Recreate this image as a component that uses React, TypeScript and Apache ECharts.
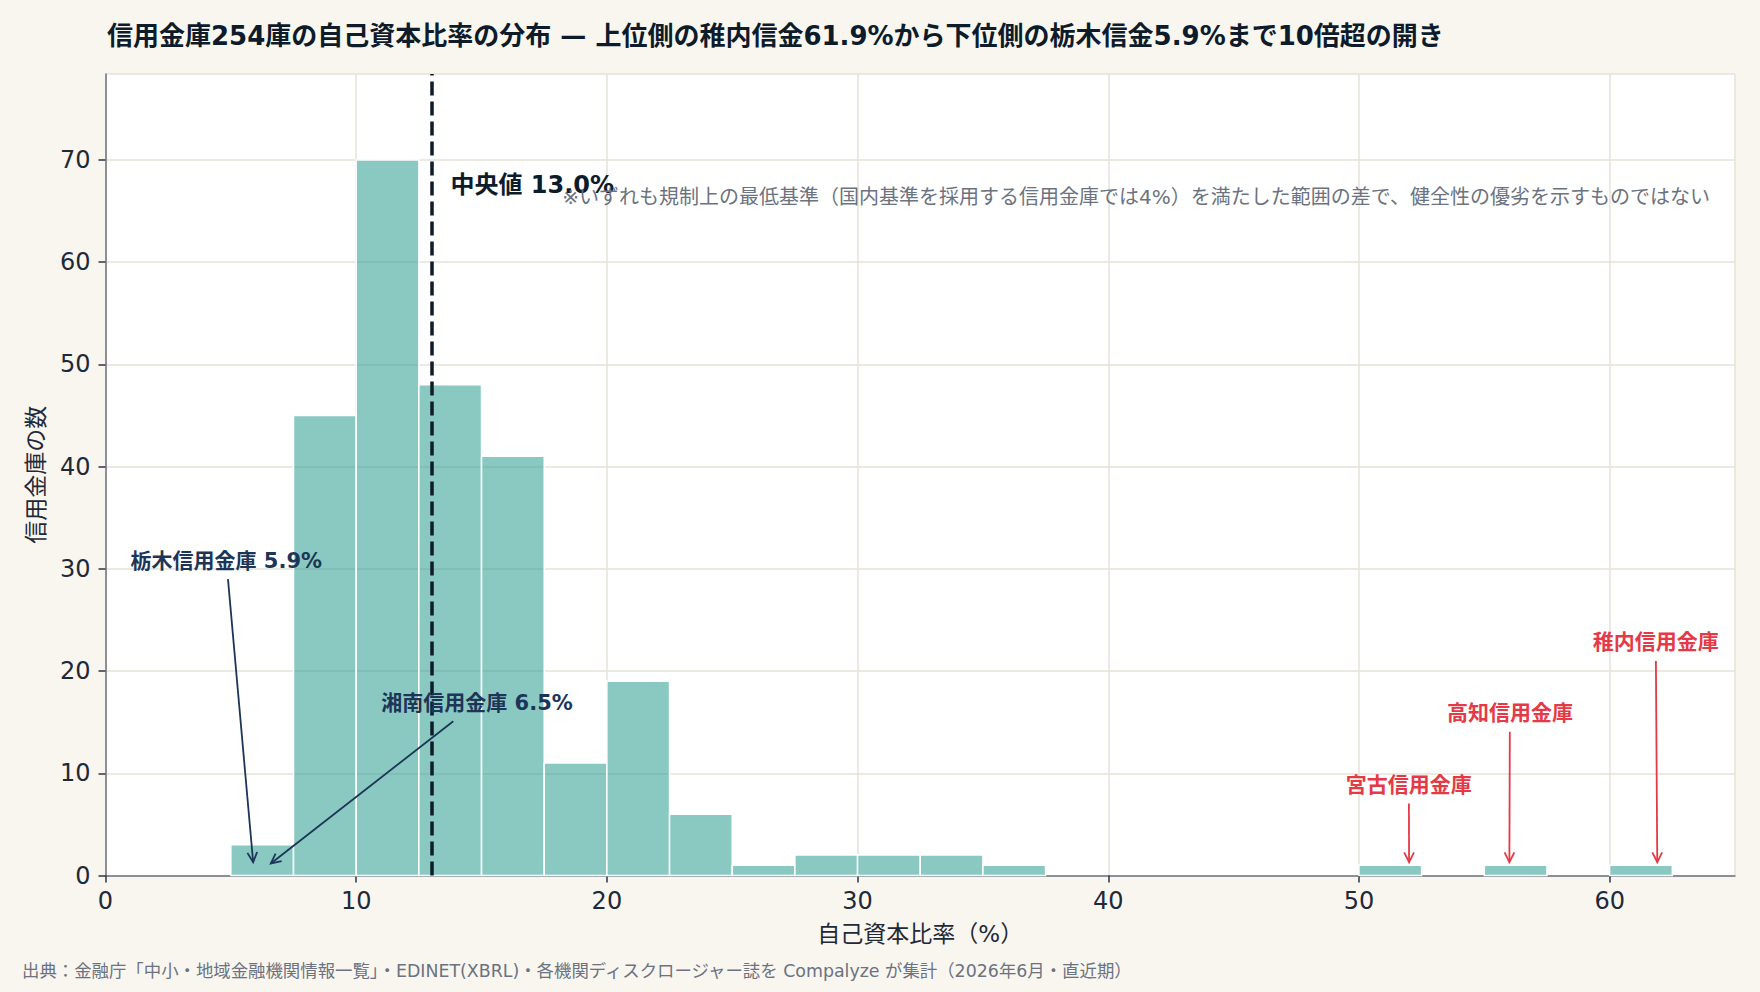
import React, { useEffect, useRef } from 'react';
import * as echarts from 'echarts';

// ---- data ----
const binLows = [5, 7.5, 10, 12.5, 15, 17.5, 20, 22.5, 25, 27.5, 30, 32.5, 35, 50, 55, 60];
const binWidth = 2.5;
const binCounts = [3, 45, 70, 48, 41, 11, 19, 6, 1, 2, 2, 2, 1, 1, 1, 1];
const medianRatio = 13.0;
const medianLabel = '中央値 13.0%';

const annoLabels = ['栃木信用金庫 5.9%', '湘南信用金庫 6.5%', '宮古信用金庫', '高知信用金庫', '稚内信用金庫'];
const annoTargetX = [5.9, 6.5, 52.0, 56.0, 61.9];
const annoTargetY = [1, 1, 1, 1, 1];
const annoTextX = [4.82, 14.82, 51.99, 56.02, 61.84];
const annoTextY = [30.8, 16.9, 8.85, 15.86, 22.8];
const annoKinds = ['low', 'low', 'high', 'high', 'high'];

const titleText = '信用金庫254庫の自己資本比率の分布 — 上位側の稚内信金61.9%から下位側の栃木信金5.9%まで10倍超の開き';
const noteText = '※いずれも規制上の最低基準（国内基準を採用する信用金庫では4%）を満たした範囲の差で、健全性の優劣を示すものではない';
const sourceText = '出典：金融庁「中小・地域金融機関情報一覧」・EDINET(XBRL)・各機関ディスクロージャー誌を Compalyze が集計（2026年6月・直近期）';
const xName = '自己資本比率（%）';
const yName = '信用金庫の数';

const FONT = '"Noto Sans CJK JP", "Noto Sans", sans-serif';
const MIXED = '"DejaVu Sans", "Noto Sans CJK JP", sans-serif';
const BG = '#f9f6f0';
const NAVY = '#1d3557';
const RED = '#e63946';
const DARK = '#0d1b2a';

export default function App() {
  const ref = useRef<HTMLDivElement>(null);
  useEffect(() => {
    if (!ref.current) return;
    const chart = echarts.init(ref.current, null, { renderer: 'svg' });

    const histData = binLows.map((lo, i) => [lo, lo + binWidth, binCounts[i]]);
    const annoData = annoLabels.map((_, i) => [annoTextX[i], annoTextY[i], annoTargetX[i], annoTargetY[i]]);

    const option: any = {
      animation: false,
      backgroundColor: BG,
      textStyle: { fontFamily: FONT },
      title: {
        text: titleText,
        left: 102,
        top: 18,
        textStyle: { fontSize: 26, fontWeight: 'bold', color: DARK, fontFamily: MIXED },
      },
      grid: {
        left: 105.5,
        right: 25,
        top: 74,
        bottom: 116.5,
        show: true,
        backgroundColor: '#ffffff',
        borderWidth: 0,
      },
      xAxis: {
        type: 'value',
        min: 0,
        max: 65,
        interval: 10,
        name: xName,
        nameLocation: 'middle',
        nameGap: 47,
        nameTextStyle: { fontSize: 23, color: '#1f2937', fontFamily: MIXED },
        axisLine: { show: true, onZero: true, lineStyle: { color: '#6b7280', width: 1.5 } },
        axisTick: { show: true, length: 7, lineStyle: { color: '#2b3440', width: 1.5 } },
        axisLabel: { fontSize: 24, color: '#1f2937', margin: 13, showMaxLabel: false, fontFamily: MIXED },
        splitLine: { show: true, lineStyle: { color: '#e6e2da', width: 1.5 } },
      },
      yAxis: {
        type: 'value',
        min: 0,
        max: 78.4,
        interval: 10,
        name: yName,
        nameLocation: 'middle',
        nameGap: 60,
        nameRotate: 90,
        nameTextStyle: { fontSize: 23, color: '#1f2937', fontFamily: FONT },
        axisLine: { show: true, lineStyle: { color: '#6b7280', width: 1.5 } },
        axisTick: { show: true, length: 7, lineStyle: { color: '#2b3440', width: 1.5 } },
        axisLabel: { fontSize: 24, color: '#1f2937', margin: 15, showMaxLabel: false, fontFamily: MIXED },
        splitLine: { show: true, lineStyle: { color: '#e6e2da', width: 1.5 } },
      },
      series: [
        {
          type: 'custom',
          name: 'hist',
          data: histData,
          encode: { x: [0, 1], y: 2 },
          silent: true,
          z: 2,
          renderItem: (params: any, api: any) => {
            const p0 = api.coord([api.value(0), api.value(2)]);
            const p1 = api.coord([api.value(1), 0]);
            return {
              type: 'rect',
              shape: { x: p0[0], y: p0[1], width: p1[0] - p0[0], height: p1[1] - p0[1] },
              style: { fill: 'rgba(42,157,143,0.55)', stroke: '#ffffff', lineWidth: 1.5 },
            };
          },
          markLine: {
            silent: true,
            symbol: ['none', 'none'],
            label: { show: false },
            lineStyle: { color: DARK, width: 3.5, type: [14, 6] },
            data: [{ xAxis: medianRatio }],
            z: 5,
          },
        },
        {
          type: 'custom',
          name: 'median-label',
          data: [[medianRatio, 67.5]],
          silent: true,
          z: 6,
          renderItem: (params: any, api: any) => {
            const p = api.coord([api.value(0), api.value(1)]);
            return {
              type: 'text',
              x: p[0] + 19,
              y: p[1],
              style: {
                text: medianLabel,
                fill: DARK,
                fontSize: 24,
                fontWeight: 'bold',
                fontFamily: MIXED,
                align: 'left',
                verticalAlign: 'middle',
              },
            };
          },
        },
        {
          type: 'custom',
          name: 'annotations',
          data: annoData,
          silent: true,
          z: 7,
          renderItem: (params: any, api: any) => {
            const i = params.dataIndex;
            const color = annoKinds[i] === 'low' ? NAVY : RED;
            const tp = api.coord([api.value(0), api.value(1)]);
            const tg = api.coord([api.value(2), api.value(3)]);
            const dx = tg[0] - tp[0];
            const dy = tg[1] - tp[1];
            const t0 = 18.5 / Math.abs(dy);
            const sx = tp[0] + dx * t0;
            const sy = tp[1] + dy * t0;
            const len = Math.hypot(dx, dy);
            const ux = dx / len;
            const uy = dy / len;
            const ex = tg[0] - ux * 3;
            const ey = tg[1] - uy * 3;
            const ah = 11;
            const ang = 0.46;
            const c = Math.cos(ang);
            const s = Math.sin(ang);
            const bx = -ux;
            const by = -uy;
            const l1 = [ex + ah * (bx * c - by * s), ey + ah * (bx * s + by * c)];
            const l2 = [ex + ah * (bx * c + by * s), ey + ah * (-bx * s + by * c)];
            return {
              type: 'group',
              children: [
                {
                  type: 'line',
                  shape: { x1: sx, y1: sy, x2: ex, y2: ey },
                  style: { stroke: color, lineWidth: 1.8 },
                },
                {
                  type: 'polyline',
                  shape: { points: [l1, [ex, ey], l2] },
                  style: { stroke: color, lineWidth: 1.8, fill: 'none' },
                },
                {
                  type: 'text',
                  x: tp[0],
                  y: tp[1],
                  style: {
                    text: annoLabels[i],
                    fill: color,
                    fontSize: 21,
                    fontWeight: 'bold',
                    fontFamily: MIXED,
                    align: 'center',
                    verticalAlign: 'middle',
                  },
                },
              ],
            };
          },
        },
      ],
      graphic: [
        {
          type: 'text',
          x: 1710,
          y: 197,
          z: 10,
          style: {
            text: noteText,
            fill: '#6b7280',
            fontSize: 20,
            fontFamily: MIXED,
            align: 'right',
            verticalAlign: 'middle',
          },
        },
        {
          type: 'text',
          x: 22,
          y: 971,
          style: {
            text: sourceText,
            fill: '#6b7280',
            fontSize: 17.4,
            fontFamily: MIXED,
            align: 'left',
            verticalAlign: 'middle',
          },
        },
      ],
    };
    chart.setOption(option);
    return () => chart.dispose();
  }, []);
  return (
    <div
      ref={ref}
      style={{ position: 'absolute', left: 0, top: 0, width: 1760, height: 992, background: BG }}
    />
  );
}
